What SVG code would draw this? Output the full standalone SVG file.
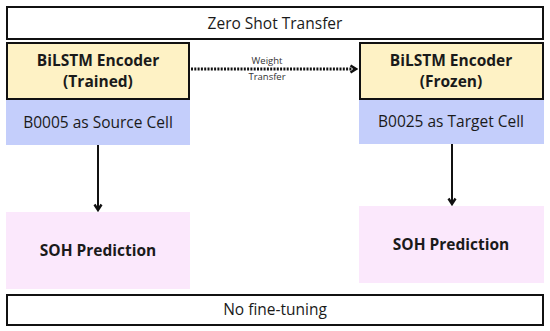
<svg xmlns="http://www.w3.org/2000/svg" width="550" height="331" viewBox="0 0 550 331">
<defs>
<style>
.t{font-family:"Open Sans","Liberation Sans",sans-serif;fill:#1a1a1a;text-anchor:middle}
.r{font-size:15.5px}
.b{font-size:15.5px;font-weight:bold}
.s{font-size:9.5px;fill:#333}
.frame{fill:#fff;stroke:#111;stroke-width:2}
.enc{fill:#FEF2C5;stroke:#111;stroke-width:2}
.cell{fill:#C4CEFB}
.pred{fill:#FBE8FC}
.con{stroke:#111;stroke-width:2;fill:none}
.dot{stroke:#111;stroke-width:2.8;stroke-dasharray:2 1.3;fill:none}
</style>
<marker id="ah" viewBox="0 0 10 10" refX="8" refY="5" markerWidth="10" markerHeight="10" markerUnits="userSpaceOnUse" orient="auto">
<path d="M2.5,1.5 L8,5 L2.5,8.5" fill="none" stroke="#111" stroke-width="2.4"/>
</marker>
</defs>
<g id="zero-shot">
<rect class="frame" x="7" y="7" width="536" height="32"/>
<text class="t r" x="275" y="29">Zero Shot Transfer</text>
</g>
<g id="source-cell">
<rect class="cell" x="6" y="99" width="184" height="46"/>
<text class="t r" x="98" y="128">B0005 as Source Cell</text>
</g>
<g id="encoder-trained">
<rect class="enc" x="7" y="43" width="182" height="56"/>
<text class="t b" x="98" y="66">BiLSTM Encoder</text>
<text class="t b" x="98" y="87">(Trained)</text>
</g>
<g id="target-cell">
<rect class="cell" x="359" y="99" width="185" height="45"/>
<text class="t r" x="451" y="127">B0025 as Target Cell</text>
</g>
<g id="encoder-frozen">
<rect class="enc" x="360" y="43" width="183" height="56"/>
<text class="t b" x="451" y="66">BiLSTM Encoder</text>
<text class="t b" x="451" y="87">(Frozen)</text>
</g>
<g id="soh-left">
<rect class="pred" x="6" y="212" width="184" height="77"/>
<text class="t b" x="98" y="256">SOH Prediction</text>
</g>
<g id="soh-right">
<rect class="pred" x="359" y="206" width="185" height="77"/>
<text class="t b" x="451" y="250">SOH Prediction</text>
</g>
<g id="no-fine-tuning">
<rect class="frame" x="7" y="295" width="536" height="30"/>
<text class="t r" x="275" y="315">No fine-tuning</text>
</g>
<g id="connectors">
<line class="con" x1="98" y1="145" x2="98" y2="210" marker-end="url(#ah)"/>
<line class="con" x1="452" y1="144" x2="452" y2="204" marker-end="url(#ah)"/>
<line class="dot" x1="191" y1="69" x2="356" y2="69" marker-end="url(#ah)"/>
<text class="t s" x="267" y="64">Weight</text>
<text class="t s" x="267" y="80">Transfer</text>
</g>
</svg>
